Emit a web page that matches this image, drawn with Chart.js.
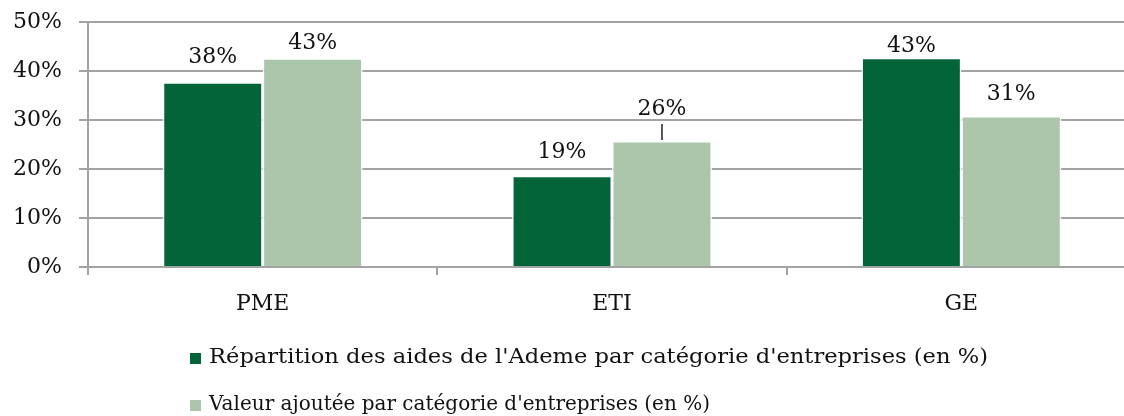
<!DOCTYPE html>
<html>
<head>
<meta charset="utf-8">
<script src="https://cdn.jsdelivr.net/npm/chart.js@4"></script>
<style>
    html, body { margin: 0; padding: 0; background: #fff; overflow: hidden; }
    #wrap { width: 1136px; height: 416px; }
</style>
</head>
<body>
<div id="wrap"><canvas id="barChart" width="1136" height="416"></canvas></div>
<script>
const categories = ['PME', 'ETI', 'GE'];
const aidesAdeme = [37.7, 18.6, 42.7];
const valeurAjoutee = [42.6, 25.7, 30.8];
const seriesLabels = [
    "Répartition des aides de l'Ademe par catégorie d'entreprises (en %)",
    "Valeur ajoutée par catégorie d'entreprises (en %)"
];
const yMax = 50;
const yStep = 10;

const colors = ['#03643a', '#abc6aa'];
const fontFamily = '"DejaVu Serif", serif';
const gridColor = '#a3a3a3';

// gap between label baseline and bar top (px), as in the original placement
const labelGaps = [[19, 18, 6], [9, 26, 16]];
const leaderLines = [[false, false, false], [false, true, false]];
// legend text widths in the original (its font is narrower)
const legendWidths = [779, 501];

const labelsAndLegend = {
    id: 'labelsAndLegend',
    afterDatasetsDraw(chart) {
        const ctx = chart.ctx;
        ctx.save();
        ctx.font = 'normal 22px ' + fontFamily;
        ctx.fillStyle = '#111';
        ctx.textAlign = 'center';
        ctx.textBaseline = 'alphabetic';
        chart.data.datasets.forEach((ds, i) => {
            chart.getDatasetMeta(i).data.forEach((bar, j) => {
                const base = bar.y - labelGaps[i][j];
                ctx.fillText(Math.round(ds.data[j]) + '%', bar.x, base);
                if (leaderLines[i][j]) {
                    ctx.strokeStyle = '#222';
                    ctx.lineWidth = 1.5;
                    ctx.beginPath();
                    ctx.moveTo(bar.x, base + 9);
                    ctx.lineTo(bar.x, bar.y - 1);
                    ctx.stroke();
                }
            });
        });
        ctx.restore();
    },
    afterDraw(chart) {
        const ctx = chart.ctx;
        const rows = [363, 410];
        chart.data.datasets.forEach((ds, i) => {
            ctx.save();
            ctx.fillStyle = ds.backgroundColor;
            ctx.fillRect(190, rows[i] - 10, 11, 11);
            ctx.font = 'normal 21px ' + fontFamily;
            ctx.fillStyle = '#111';
            ctx.textAlign = 'left';
            ctx.textBaseline = 'alphabetic';
            const w = ctx.measureText(ds.label).width;
            ctx.translate(209, rows[i]);
            ctx.scale(legendWidths[i] / w, 1);
            ctx.fillText(ds.label, 0, 0);
            ctx.restore();
        });
    }
};

const ctx = document.getElementById('barChart').getContext('2d');
new Chart(ctx, {
    type: 'bar',
    data: {
        labels: categories,
        datasets: [{
            label: seriesLabels[0],
            data: aidesAdeme,
            backgroundColor: colors[0],
            borderColor: '#fff',
            borderWidth: 1.5
        }, {
            label: seriesLabels[1],
            data: valeurAjoutee,
            backgroundColor: colors[1],
            borderColor: '#fff',
            borderWidth: 1.5
        }]
    },
    options: {
        responsive: false,
        animation: false,
        layout: { padding: { top: 22, right: 0, bottom: 0, left: 0 } },
        datasets: {
            bar: { categoryPercentage: 0.572, barPercentage: 1 }
        },
        plugins: {
            legend: { display: false },
            tooltip: { enabled: false }
        },
        scales: {
            x: {
                grid: {
                    offset: true,
                    drawOnChartArea: false,
                    drawTicks: true,
                    tickLength: 8,
                    color: gridColor,
                    lineWidth: 2
                },
                border: { color: gridColor, width: 2 },
                ticks: {
                    color: '#111',
                    padding: 16,
                    font: { family: fontFamily, size: 22 }
                },
                afterFit(scale) { scale.height = 149; }
            },
            y: {
                min: 0,
                max: yMax,
                grid: {
                    color: gridColor,
                    lineWidth: 2,
                    tickLength: 9
                },
                border: { color: gridColor, width: 2 },
                ticks: {
                    stepSize: yStep,
                    color: '#111',
                    padding: 17,
                    font: { family: fontFamily, size: 22 },
                    callback: v => v + '%'
                },
                afterFit(scale) {
                    scale.width = 88;
                    scale.paddingTop = 0;
                    scale.paddingBottom = 0;
                }
            }
        }
    },
    plugins: [labelsAndLegend]
});
</script>
</body>
</html>
